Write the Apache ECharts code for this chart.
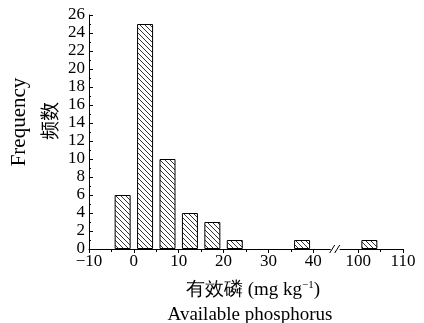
<!DOCTYPE html>
<html><head><meta charset="utf-8">
<script src="https://cdn.jsdelivr.net/npm/echarts@6/dist/echarts.min.js"></script>
<style>html,body{margin:0;padding:0;background:#fff}#c{width:424px;height:323px}</style>
</head><body><div id="c"></div>
<script>
const binCenters = [-2.5, 2.5, 7.5, 12.5, 17.5, 22.5, 37.5, 102.5];
const frequency = [6, 25, 10, 4, 3, 1, 1, 1];
const xTicks = [-10, 0, 10, 20, 30, 40, 100, 110];
const yTicks = [0, 2, 4, 6, 8, 10, 12, 14, 16, 18, 20, 22, 24, 26];
const BREAK_AT = 45, SHIFT = 50; // values 45..95 are cut out of the axis
const toAxis = v => v > BREAK_AT ? v - SHIFT : v;
const fromAxis = v => v > BREAK_AT ? v + SHIFT : v;

const tile = document.createElement('canvas');
tile.width = 5; tile.height = 5;
const g = tile.getContext('2d');
g.fillStyle = '#fff'; g.fillRect(0,0,5,5);
g.strokeStyle = '#333'; g.lineWidth = 1;
g.beginPath();
g.moveTo(-1,-1); g.lineTo(6,6);
g.moveTo(-1,4); g.lineTo(1,6);
g.moveTo(4,-1); g.lineTo(6,1);
g.stroke();

const font = '"Liberation Serif", "Times New Roman", serif';
const chart = echarts.init(document.getElementById('c'), null, {renderer: 'canvas'});
chart.setOption({
  animation: false,
  grid: {left: 89, right: 21, top: 15, bottom: 74, outerBoundsMode: 'none', containLabel: false},
  xAxis: {
    type: 'value', min: -10, max: 60, interval: 10,
    axisLine: {show: true, onZero: false, lineStyle: {color: '#000', width: 1}},
    axisTick: {show: true, inside: false, length: 4, lineStyle: {color: '#000'}},
    minorTick: {show: true, splitNumber: 2, length: 3, lineStyle: {color: '#000'}},
    splitLine: {show: false},
    axisLabel: {color: '#000', fontFamily: font, fontSize: 17, margin: 4,
      formatter: v => { const r = fromAxis(v); return xTicks.includes(r) ? String(r).replace('-', '\u2212') : ''; }}
  },
  yAxis: {
    type: 'value', min: 0, max: 26, interval: 2,
    axisLine: {show: true, onZero: false, lineStyle: {color: '#000', width: 1}},
    axisTick: {show: true, inside: true, length: 4, lineStyle: {color: '#000'}},
    minorTick: {show: true, splitNumber: 2, length: 2, lineStyle: {color: '#000'}},
    splitLine: {show: false},
    axisLabel: {color: '#000', fontFamily: font, fontSize: 17, margin: 4,
      formatter: v => yTicks.includes(v) ? String(v) : ''}
  },
  series: [{
    type: 'bar', barWidth: 16,
    data: binCenters.map((c, i) => [toAxis(c), frequency[i]]),
    itemStyle: {color: {image: tile, repeat: 'repeat'}, borderColor: '#000', borderWidth: 1}
  }]
});

const p = chart.convertToPixel({xAxisIndex: 0, yAxisIndex: 0}, [BREAK_AT, 0]);
const bx = p[0], by = p[1];
chart.setOption({graphic: [
  {type: 'rect', shape: {x: bx - 5, y: by - 2, width: 9, height: 4}, style: {fill: '#fff'}, z: 100},
  {type: 'line', shape: {x1: bx - 6, y1: by + 4, x2: bx - 1, y2: by - 4}, style: {stroke: '#000', lineWidth: 1}, z: 101},
  {type: 'line', shape: {x1: bx - 1, y1: by + 4, x2: bx + 4, y2: by - 4}, style: {stroke: '#000', lineWidth: 1}, z: 101},
  {type: 'text', rotation: Math.PI / 2, x: 19, y: 122, silent: true,
   style: {text: 'Frequency', font: '21px ' + font, fill: '#000', align: 'center', verticalAlign: 'middle'}},
  {type: 'text', rotation: Math.PI / 2, x: 50, y: 121, silent: true,
   style: {text: '频数', font: '19px "Noto Sans CJK SC"', fill: '#000', align: 'center', verticalAlign: 'middle'}},
  {type: 'text', x: 253, y: 290, silent: true,
   style: {text: '{a|有效磷 (mg kg}{s|\u22121}{a|)}', align: 'center', verticalAlign: 'middle',
     rich: {a: {fontFamily: font, fontSize: 19, fill: '#000', verticalAlign: 'bottom'},
            s: {fontFamily: font, fontSize: 11, fill: '#000', verticalAlign: 'top', padding: [0,0,9,0]}}}},
  {type: 'text', x: 250, y: 315, silent: true,
   style: {text: 'Available phosphorus', font: '19px ' + font, fill: '#000', align: 'center', verticalAlign: 'middle'}}
]});
</script></body></html>
